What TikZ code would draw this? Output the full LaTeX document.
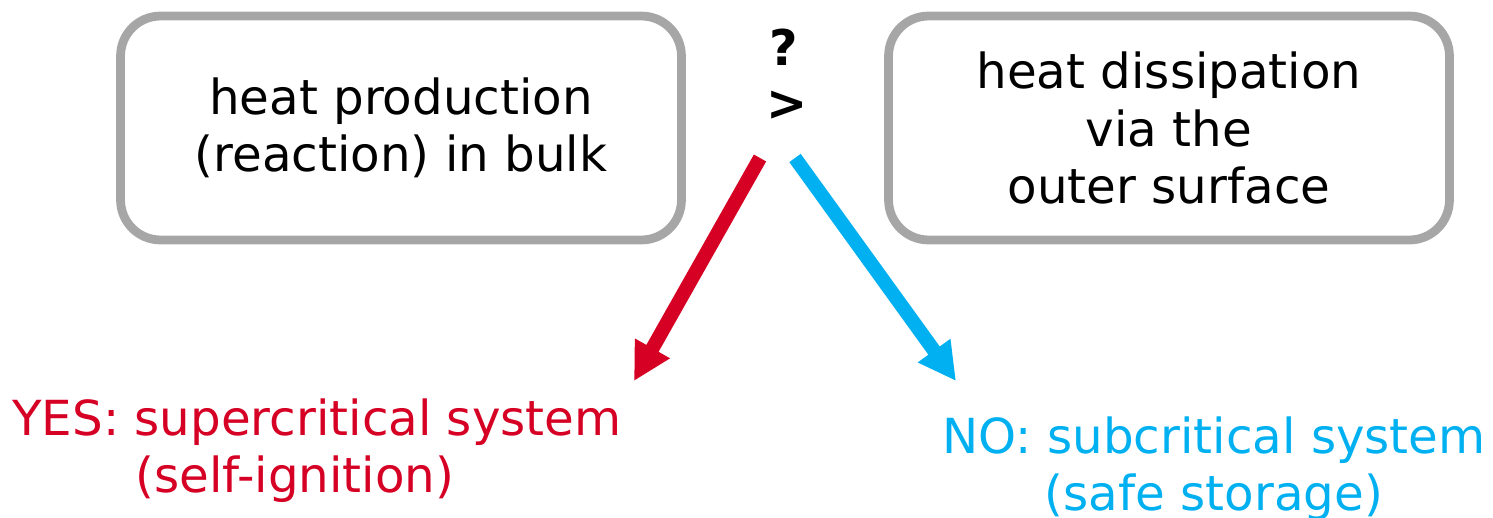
\documentclass[tikz,border=0pt]{standalone}
\usepackage{fontspec}
\setmainfont{DejaVu Sans}
\usetikzlibrary{arrows.meta}
\definecolor{boxgray}{HTML}{A6A6A6}
\definecolor{yesred}{HTML}{D50023}
\definecolor{noblue}{HTML}{00B0F0}

\begin{document}
\begin{tikzpicture}[x=0.02cm,y=-0.02cm]
					\useasboundingbox (0,0) rectangle (1493,517);
					\tikzstyle{every node}=[font=\fontsize{27.5}{32.5}\selectfont,align=center,inner sep=0pt];
					\tikzstyle{box}=[draw=boxgray,line width=5pt,rounded corners=0.8cm,minimum width=11.22cm,minimum height=4.48cm];
					\tikzstyle{sign}=[font=\fontsize{28}{32.5}\selectfont\bfseries];
					\tikzstyle{branch}=[line width=8pt,-{Triangle[length=0.75cm,width=0.75cm]}];
						\path (401,128) node[box] (prod) {heat production\\(reaction) in bulk};
						\path (1169,128) node[box] (diss) {heat dissipation\\via the\\outer surface};
						\path (784,47) node[sign] (q) {?};
						\path (787,106) node[sign] (gt) {>};
						\path (317,451) node[text=yesred] (yes) {YES: supercritical system\\(self-ignition)\hspace*{0.88cm}};
						\path (1214,469) node[text=noblue] (no) {NO: subcritical system\\(safe storage)};
						\coordinate (ys) at (760,158);
						\coordinate (ye) at (634,381);
						\coordinate (ns) at (795,158);
						\coordinate (ne) at (956,381);
						\draw[branch,yesred] (ys) -- (ye);
						\draw[branch,noblue] (ns) -- (ne);
					\end{tikzpicture}
\end{document}
